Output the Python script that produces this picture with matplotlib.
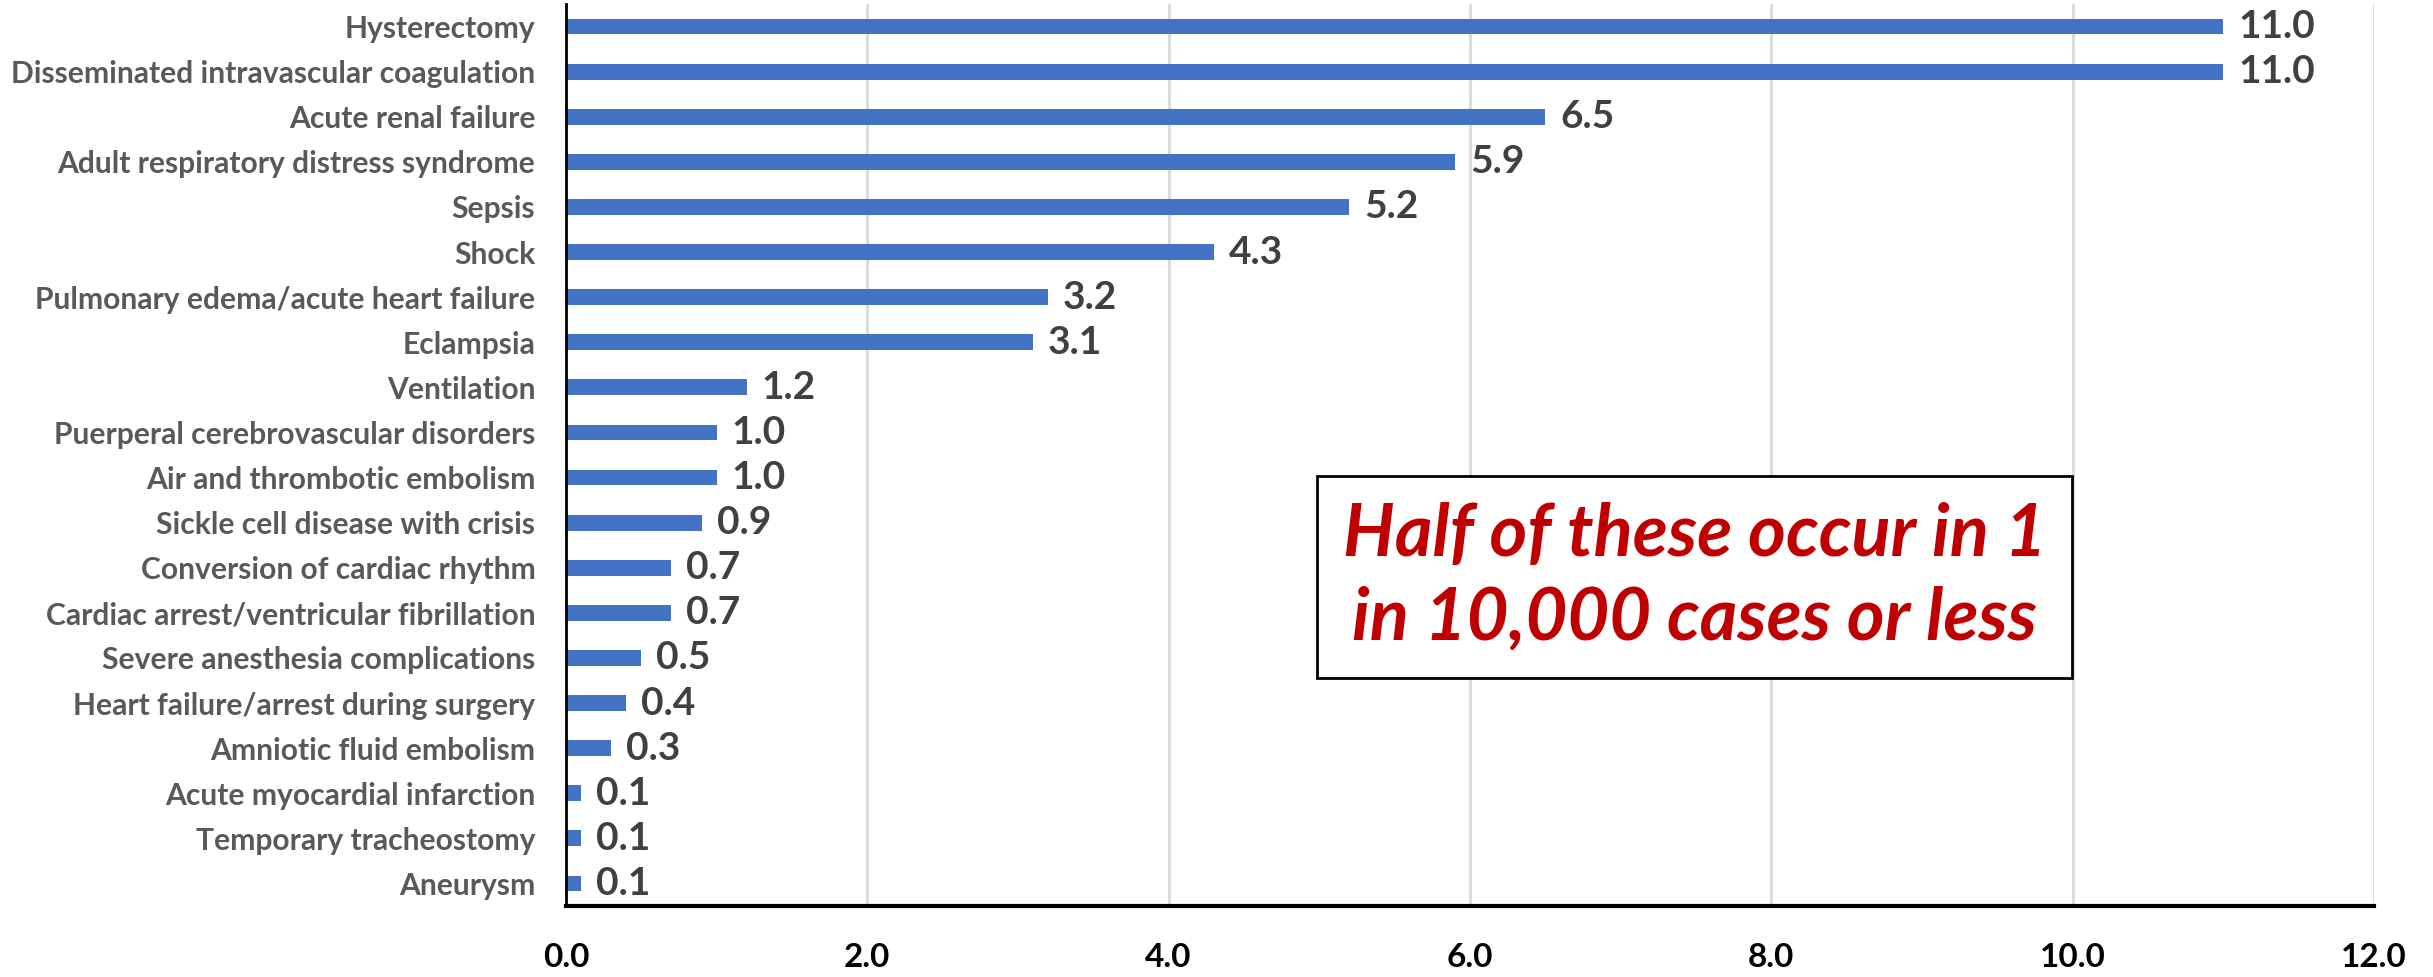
import matplotlib
matplotlib.use("Agg")
import matplotlib.pyplot as plt
from matplotlib.patches import Rectangle

# data (per 10,000 cases)
conditions = [
    "Hysterectomy",
    "Disseminated intravascular coagulation",
    "Acute renal failure",
    "Adult respiratory distress syndrome",
    "Sepsis",
    "Shock",
    "Pulmonary edema/acute heart failure",
    "Eclampsia",
    "Ventilation",
    "Puerperal cerebrovascular disorders",
    "Air and thrombotic embolism",
    "Sickle cell disease with crisis",
    "Conversion of cardiac rhythm",
    "Cardiac arrest/ventricular fibrillation",
    "Severe anesthesia complications",
    "Heart failure/arrest during surgery",
    "Amniotic fluid embolism",
    "Acute myocardial infarction",
    "Temporary tracheostomy",
    "Aneurysm",
]
rates = [11.0, 11.0, 6.5, 5.9, 5.2, 4.3, 3.2, 3.1, 1.2, 1.0,
         1.0, 0.9, 0.7, 0.7, 0.5, 0.4, 0.3, 0.1, 0.1, 0.1]
xticks = [0, 2, 4, 6, 8, 10, 12]
note = "Half of these occur in 1\nin 10,000 cases or less"

plt.rcParams["font.family"] = ["Lato", "DejaVu Sans"]

fig = plt.figure(figsize=(24.33, 9.77), dpi=100)
ax = fig.add_axes([0.2326, 0.0727, 0.7431, 0.9232])

ypos = list(range(len(conditions)))
ax.barh(ypos, rates, height=0.35, color="#4472C4", zorder=3)
ax.set_ylim(len(conditions) - 0.5, -0.5)
ax.set_xlim(0, 12)

ax.set_yticks(ypos)
ax.set_yticklabels(conditions, fontsize=21.6, fontweight="bold", color="#595959")
ax.set_xticks(xticks)
ax.set_xticklabels([f"{v:.1f}" for v in xticks], fontsize=24, fontweight="bold", color="black")
ax.tick_params(axis="y", length=0, pad=22)
ax.tick_params(axis="x", length=0, pad=27)

for y, v in zip(ypos, rates):
    ax.text(v + 0.1, y, f"{v:.1f}", va="center", ha="left",
            fontsize=28, fontweight="bold", color="#404040", zorder=4)

ax.grid(axis="x", color="#D9D9D9", linewidth=2, zorder=0)
ax.spines["top"].set_visible(False)
ax.spines["right"].set_visible(False)
ax.spines["left"].set_linewidth(2)
ax.spines["bottom"].set_linewidth(3)
ax.spines["left"].set_zorder(5)
ax.spines["bottom"].set_zorder(5)

# callout box
ax.add_patch(Rectangle((0.4154, 0.2528), 0.4176, 0.2239, transform=ax.transAxes,
                       facecolor="white", edgecolor="black", linewidth=2, zorder=6))
ax.text(0.6244, 0.3647, note, transform=ax.transAxes, ha="center", va="center",
        fontsize=52, fontweight="bold", fontstyle="italic", color="#C00000",
        linespacing=1.3, zorder=7)

fig.savefig("out.png", dpi=100)
